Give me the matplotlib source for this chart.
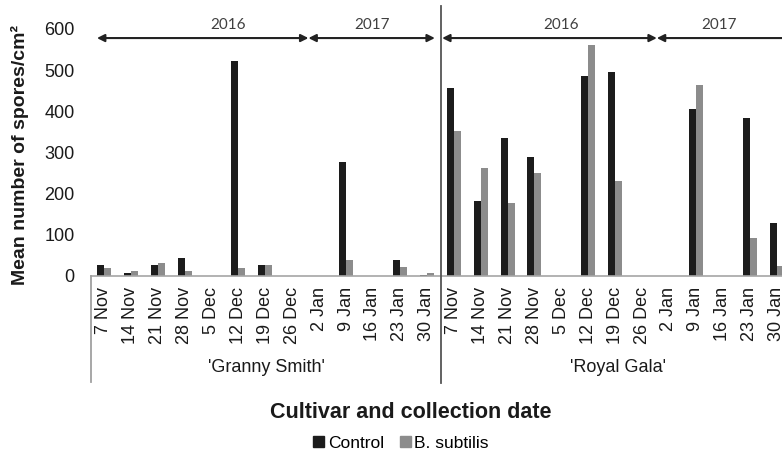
import matplotlib
matplotlib.use("Agg")
import matplotlib.pyplot as plt
from matplotlib.lines import Line2D
from matplotlib.patches import Patch
import numpy as np

plt.rcParams['font.family'] = ['Liberation Sans', 'DejaVu Sans']

dates = ["7 Nov", "14 Nov", "21 Nov", "28 Nov", "5 Dec", "12 Dec", "19 Dec",
         "26 Dec", "2 Jan", "9 Jan", "16 Jan", "23 Jan", "30 Jan"]
cultivars = ["'Granny Smith'", "'Royal Gala'"]
years = ["2016", "2017"]

gs_control = [27, 7, 27, 44, 0, 522, 27, 0, 0, 277, 0, 40, 3]
gs_subtilis = [19, 12, 32, 12, 0, 20, 27, 0, 0, 39, 0, 23, 8]
rg_control = [457, 182, 335, 289, 0, 486, 495, 0, 0, 405, 0, 384, 129]
rg_subtilis = [352, 262, 177, 250, 0, 561, 231, 0, 0, 464, 0, 92, 24]

control = gs_control + rg_control
subtilis = gs_subtilis + rg_subtilis
labels = dates + dates

W, H = 782, 451
fig = plt.figure(figsize=(W / 100, H / 100), dpi=100)
ax_left, ax_right = 90.5, 790
ax_bot, ax_top = 276, 29
ax = fig.add_axes([ax_left / W, (H - ax_bot) / H, (ax_right - ax_left) / W, (ax_bot - ax_top) / H])

x = np.arange(len(labels))
bw = 0.26
ax.bar(x - bw / 2, control, bw, color='#1c1c1c', label='Control')
ax.bar(x + bw / 2, subtilis, bw, color='#8c8c8c', label='B. subtilis')

ax.set_xlim(-0.5, len(labels) - 0.5)
ax.set_ylim(0, 600)
ax.set_yticks(range(0, 601, 100))
ax.set_xticks(x)
ax.set_xticklabels(labels, rotation=90, fontsize=13, color='#1a1a1a')
ax.tick_params(axis='x', length=0, pad=8)
ax.tick_params(axis='y', length=0, pad=11.5, labelsize=13, labelcolor='#1a1a1a')
for s in ['left', 'top', 'right']:
    ax.spines[s].set_visible(False)
ax.spines['bottom'].set_color('#a6a6a6')
ax.spines['bottom'].set_linewidth(1.2)

# group labels
fig.text(266 / W, 1 - 368 / H, cultivars[0], ha='center', va='center', fontsize=13, color='#1a1a1a')
fig.text(618 / W, 1 - 368 / H, cultivars[1], ha='center', va='center', fontsize=13, color='#1a1a1a')

# vertical group lines
fig.add_artist(Line2D([ax_left / W, ax_left / W], [1 - 276 / H, 1 - 382 / H], color='#a0a0a0', lw=1.3))
sep = 440.5
fig.add_artist(Line2D([sep / W, sep / W], [1 - 6 / H, 1 - 383 / H], color='#555555', lw=1.3))

# year arrows
ay = 578
spans = [(-0.26, 7.6), (7.6, 12.3), (12.57, 20.55), (20.55, 25.6)]
for a, b in spans:
    ax.annotate('', xy=(b, ay), xytext=(a, ay), xycoords='data', textcoords='data',
                arrowprops=dict(arrowstyle='<|-|>', color='#222222', lw=1.5,
                                mutation_scale=11, shrinkA=0, shrinkB=0),
                annotation_clip=False)
year_pos = [(4.6, years[0]), (9.97, years[1]), (17.0, years[0]), (22.86, years[1])]
for xp, t in year_pos:
    ax.text(xp, 610, t, ha='center', va='center', fontsize=11, color='#404040',
            family=['Lato', 'DejaVu Sans'], clip_on=False)

# axis labels
fig.text(20 / W, 1 - 155 / H, 'Mean number of spores/cm²', rotation=90, ha='center', va='center',
         fontsize=14, fontweight='bold', color='#1a1a1a')
fig.text(411 / W, 1 - 412 / H, 'Cultivar and collection date', ha='center', va='center',
         fontsize=15.5, fontweight='bold', color='#1a1a1a')

handles = [Patch(color='#1c1c1c'), Patch(color='#8c8c8c')]
fig.legend(handles, ['Control', 'B. subtilis'], loc='center', bbox_to_anchor=(401 / W, 1 - 443 / H),
           ncol=2, frameon=False, fontsize=12.5, handlelength=0.65, handleheight=0.65,
           handletextpad=0.2, columnspacing=0.9, borderpad=0)

fig.savefig('out.png', dpi=100)
